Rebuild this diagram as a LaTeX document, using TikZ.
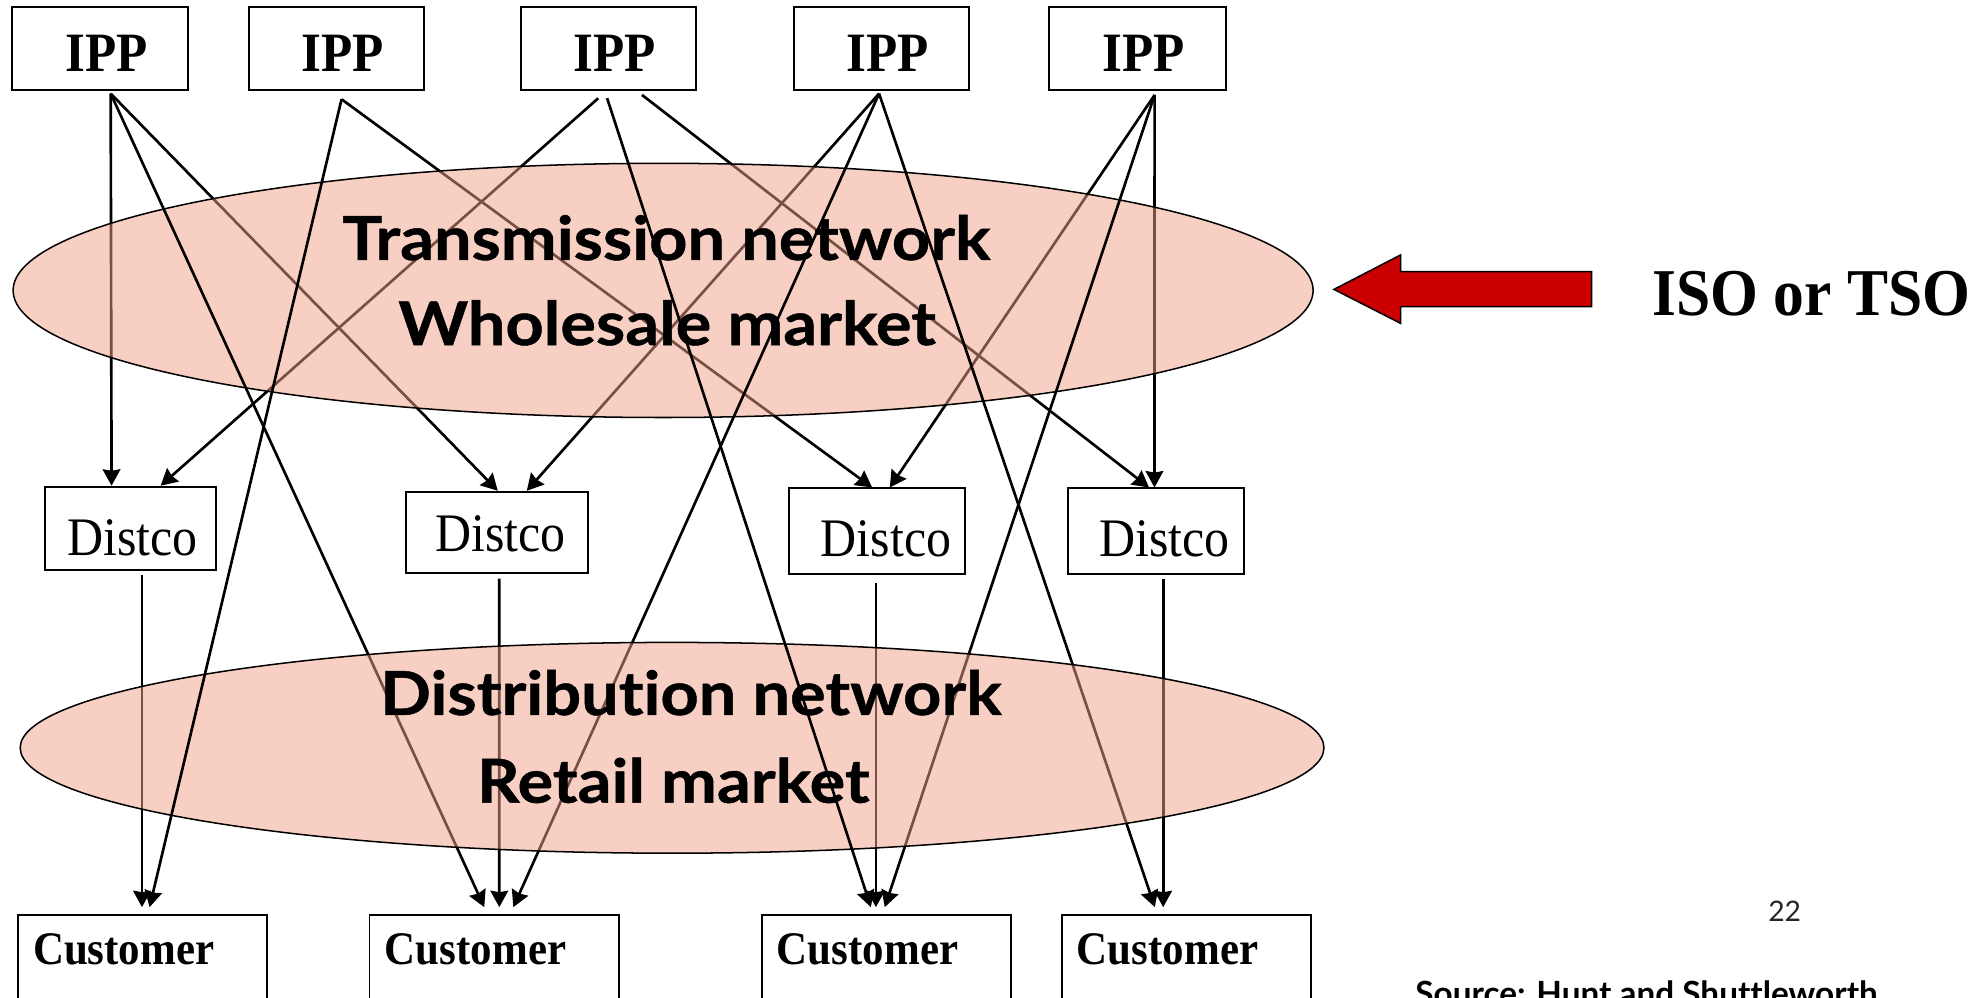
\documentclass[tikz,border=0pt]{standalone}
\usepackage{fontspec}
\setmainfont{Liberation Serif}
\newfontfamily\timesn{Liberation Serif}[FakeStretch=0.92]
\newfontfamily\gill{Lato}[Ligatures=NoCommon]
\newfontfamily\gillwide{Lato}[Ligatures=NoCommon, FakeStretch=1.1, FakeBold=0.8]
\usetikzlibrary{calc,arrows.meta}
\definecolor{netfill}{RGB}{242,160,136}
\definecolor{isored}{RGB}{204,0,0}

\begin{document}
\begin{tikzpicture}[x=0.5pt,y=-0.5pt,
  box/.style={draw, line width=0.75pt, inner sep=0pt},
  ippbox/.style={box, minimum width=69.5pt, minimum height=32.75pt},
  distbox/.style={box, minimum height=33pt},
  custbox/.style={box, minimum width=98.75pt, minimum height=45pt},
  ipplbl/.style={anchor=base, inner sep=0pt, font=\timesn\bfseries\fontsize{22}{22}\selectfont},
  distlbl/.style={anchor=base, inner sep=0pt, font=\timesn\fontsize{21.5}{21.5}\selectfont},
  custlbl/.style={anchor=base west, inner sep=0pt, font=\timesn\bfseries\fontsize{18.5}{18.5}\selectfont},
  netlbl/.style={anchor=base, inner sep=0pt, font=\gillwide\bfseries\fontsize{24}{24}\selectfont},
  conn/.style={line width=1.05pt, -{Stealth[length=6.5pt,width=7pt,inset=0.6pt]}},
  net/.style={draw=black, line width=0.6pt, fill=netfill, fill opacity=0.5},
]
\useasboundingbox (0,0) rectangle (1568,790);
\clip (0,0) rectangle (1568,790);

% generators
\node[ippbox] (ipp1) at (79.25,38.55) {};
\node[ippbox] (ipp2) at (266.65,38.55) {};
\node[ippbox] (ipp3) at (482.15,38.55) {};
\node[ippbox] (ipp4) at (698.35,38.55) {};
\node[ippbox, minimum width=70.25pt] (ipp5) at (901.15,38.55) {};
\foreach \n in {ipp1,ipp2,ipp3,ipp4,ipp5}
  \node[ipplbl] at ($(\n.center)+(5,18.25)$) {IPP};

% distribution companies
\node[distbox, minimum width=67.75pt] (d1) at (103.15,418.6) {};
\node[distbox, minimum width=72.05pt, minimum height=32.1pt] (d2) at (393.85,421.7) {};
\node[distbox, minimum width=69.7pt, minimum height=33.9pt] (d3) at (694.7,420.9) {};
\node[distbox, minimum width=69.5pt, minimum height=34pt] (d4) at (916,421) {};
\node[distlbl] at ($(d1.center)+(1.65,21.2)$) {Distco};
\node[distlbl] at ($(d2.center)+(2.75,15.3)$) {Distco};
\node[distlbl] at ($(d3.center)+(7.3,19.7)$) {Distco};
\node[distlbl] at ($(d4.center)+(6.6,19.6)$) {Distco};

% customers
\node[custbox] (c1) at (112.75,770) {};
\node[custbox] (c2) at (391.5,770) {};
\node[custbox] (c3) at (702.2,770) {};
\node[custbox] (c4) at (939.85,770) {};
\foreach \n in {c1,c2,c3,c4}
  \node[custlbl] at ($(\n.north west)+(12.5,39.8)$) {Customer};

% generator to distco links
\draw[conn] ($(ipp1.south)+(8.45,2.1)$) -- ($(d1.north)+(-14.75,0)$);
\draw[conn] ($(ipp1.south)+(8.45,2.1)$) -- ($(d2.north)+(0.55,0)$);
\draw[conn] ($(ipp2.south)+(3.95,6.6)$) -- ($(d3.north)+(-3.7,0)$);
\draw[conn] ($(ipp3.south)+(-8.15,5.8)$) -- ($(d1.north)+(24.15,0)$);
\draw[conn] ($(ipp3.south)+(26.55,3.2)$) -- ($(d4.north)+(-5.6,0)$);
\draw[conn] ($(ipp4.south)+(-1.85,2.1)$) -- ($(d2.north)+(23.55,0)$);
\draw[conn] ($(ipp5.south)+(13.65,3.2)$) -- ($(d3.north)+(10.3,0)$);
\draw[conn] ($(ipp5.south)+(13.65,3.2)$) -- ($(d4.north)+(-1.3,0)$);

% transmission network
\draw[net] (525.4,230.1) ellipse [x radius=515, y radius=100.7];
\node[netlbl] (tn) at (528,206) {Transmission network};
\node[netlbl] (wm) at (528.5,273.4) {Wholesale market};

% direct supply links drawn over the transmission network
\draw[conn] ($(ipp1.south)+(8.45,2.1)$) -- ($(c2.north)+(-7.8,-5.5)$);
\draw[conn] ($(ipp4.south)+(-1.85,2.1)$) -- ($(c2.north)+(15.2,-5.5)$);
\draw[conn] ($(ipp4.south)+(-1.85,2.1)$) -- ($(c4.north)+(-24.85,-5.5)$);
\draw[conn] ($(ipp5.south)+(13.65,3.2)$) -- ($(c3.north)+(-1.2,-5.5)$);

% distco to customer links
\draw[conn] ($(d1.south)+(9.35,3.2)$) -- ($(c1.north)+(-0.25,-5.5)$);
\draw[conn] ($(d2.south)+(1.65,3.9)$) -- ($(c2.north)+(4.1,-5.5)$);
\draw[conn] ($(d3.south)+(-0.7,6.1)$) -- ($(c3.north)+(-8.2,-5.5)$);
\draw[conn] ($(d4.south)+(5.6,3)$) -- ($(c4.north)+(-18.25,-5.5)$);

% distribution network
\draw[net] (532.5,592.5) ellipse [x radius=516.5, y radius=83.5];
\node[netlbl] (dn) at (547.5,566.5) {Distribution network};
\node[netlbl] (rm) at (533.4,636) {Retail market};

% links drawn over both networks
\draw[conn] ($(ipp2.south)+(3.95,6.6)$) -- ($(c1.north)+(5.75,-5.5)$);
\draw[conn] ($(ipp3.south)+(-1.15,5.7)$) -- ($(c3.north)+(-12.2,-5.5)$);

% system operator
\draw[fill=isored, line width=0.6pt] (1056.9,229.3) -- (1109.7,202) -- (1109.7,215.3)
  -- (1261,215.3) -- (1261,243) -- (1109.7,243) -- (1109.7,256.2) -- cycle;
\node[anchor=base west, inner sep=0pt, font=\timesn\bfseries\fontsize{26.5}{26.5}\selectfont]
  (iso) at (1308.6,249.6) {ISO or TSO};

% slide footer
\node[anchor=base west, inner sep=0pt, text=black!85, font=\gill\fontsize{11.2}{11.2}\selectfont]
  (pg) at (1400.6,730.3) {22};
\node[anchor=base west, inner sep=0pt, font=\gill\bfseries\fontsize{13.2}{13.2}\selectfont]
  (src) at (1121,797) {Source: Hunt and Shuttleworth};
\end{tikzpicture}
\end{document}
